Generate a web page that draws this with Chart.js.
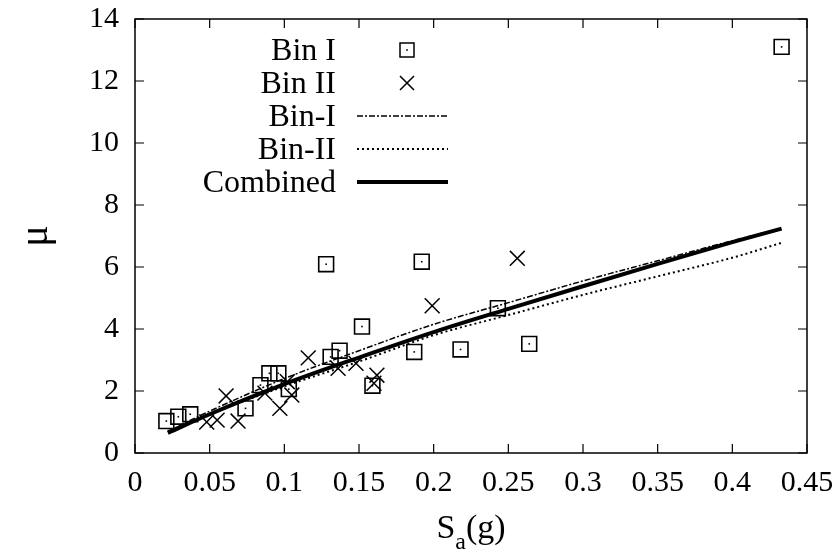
<!DOCTYPE html>
<html>
<head>
<meta charset="utf-8">
<title>mu vs Sa</title>
<script src="https://cdn.jsdelivr.net/npm/chart.js@4.4.1/dist/chart.umd.min.js"></script>
<style>
  body { margin: 0; background: #fff; }
  #wrap { width: 836px; height: 559px; }
</style>
</head>
<body>
<div id="wrap"><canvas id="chartMu" width="836" height="559"></canvas></div>
<script>
// Bin I records (squares)
var binOneSa = [0.021, 0.029, 0.037, 0.074, 0.084, 0.090, 0.096, 0.103, 0.128, 0.131, 0.137, 0.152, 0.159, 0.187, 0.192, 0.218, 0.243, 0.264, 0.433];
var binOneMu = [1.03, 1.17, 1.25, 1.44, 2.19, 2.57, 2.57, 2.06, 6.09, 3.10, 3.30, 4.08, 2.17, 3.26, 6.17, 3.34, 4.67, 3.52, 13.1];

// Bin II records (crosses)
var binTwoSa = [0.048, 0.055, 0.061, 0.069, 0.087, 0.097, 0.102, 0.105, 0.116, 0.136, 0.148, 0.160, 0.162, 0.199, 0.256];
var binTwoMu = [1.00, 1.06, 1.84, 1.03, 1.93, 1.44, 2.30, 1.87, 3.07, 2.73, 2.89, 2.25, 2.51, 4.75, 6.28];

// fitted curves
var fitSa       = [0.022, 0.05, 0.10, 0.15, 0.20, 0.25, 0.30, 0.35, 0.40, 0.433];
var fitBinOne   = [0.70, 1.35, 2.40, 3.30, 4.15, 4.85, 5.55, 6.20, 6.85, 7.25];
var fitBinTwo   = [0.70, 1.25, 2.15, 2.95, 3.80, 4.45, 5.10, 5.70, 6.30, 6.78];
var fitCombined = [0.65, 1.25, 2.22, 3.08, 3.90, 4.65, 5.38, 6.10, 6.80, 7.24];

var xTicks = [0, 0.05, 0.1, 0.15, 0.2, 0.25, 0.3, 0.35, 0.4, 0.45];
var yTicks = [0, 2, 4, 6, 8, 10, 12, 14];
var legendNames = ['Bin I', 'Bin II', 'Bin-I', 'Bin-II', 'Combined'];

var serif = "'Liberation Serif', 'Times New Roman', serif";

var toPoints = function (xs, ys) {
     return xs.map(function (x, i) { return { x: x, y: ys[i] }; });
};

// frame box + inward ticks on all four sides
var frameTicks = {
     id: 'frameTicks',
     beforeDatasetsDraw: function (chart) {
          var ctx = chart.ctx, a = chart.chartArea;
          var sx = chart.scales.x, sy = chart.scales.y;
          ctx.save();
          ctx.strokeStyle = '#000';
          ctx.lineWidth = 1.5;
          ctx.strokeRect(a.left, a.top, a.right - a.left, a.bottom - a.top);
          ctx.lineWidth = 1.2;
          ctx.beginPath();
          xTicks.forEach(function (v) {
               var px = sx.getPixelForValue(v);
               ctx.moveTo(px, a.bottom); ctx.lineTo(px, a.bottom - 9);
               ctx.moveTo(px, a.top); ctx.lineTo(px, a.top + 9);
          });
          yTicks.forEach(function (v) {
               var py = sy.getPixelForValue(v);
               ctx.moveTo(a.left, py); ctx.lineTo(a.left + 9, py);
               ctx.moveTo(a.right, py); ctx.lineTo(a.right - 9, py);
          });
          ctx.stroke();
          ctx.restore();
     },
     afterDatasetsDraw: function (chart) {
          // little centre dot inside each square, as in the original
          var ctx = chart.ctx;
          var meta = chart.getDatasetMeta(0);
          ctx.save();
          ctx.fillStyle = '#000';
          meta.data.forEach(function (pt) {
               ctx.fillRect(pt.x - 0.8, pt.y - 0.8, 1.6, 1.6);
          });
          ctx.restore();
     },
     afterDraw: function (chart) {
          var ctx = chart.ctx, a = chart.chartArea;
          ctx.save();
          ctx.fillStyle = '#000';
          ctx.strokeStyle = '#000';

          // x axis title  S_a(g)
          var cx = (a.left + a.right) / 2;
          ctx.font = '34px ' + serif;
          ctx.textBaseline = 'alphabetic';
          var wS = ctx.measureText('S').width;
          ctx.font = '24px ' + serif;
          var wA = ctx.measureText('a').width;
          ctx.font = '34px ' + serif;
          var wG = ctx.measureText('(g)').width;
          var x0 = cx - (wS + wA + wG) / 2;
          ctx.textAlign = 'left';
          ctx.fillText('S', x0, 538);
          ctx.font = '24px ' + serif;
          ctx.fillText('a', x0 + wS, 549);
          ctx.font = '34px ' + serif;
          ctx.fillText('(g)', x0 + wS + wA, 538);

          // legend
          var textRight = 336, sampleL = 357, sampleR = 448, markX = 407;
          ctx.font = '32px ' + serif;
          ctx.textAlign = 'right';
          ctx.textBaseline = 'middle';
          legendNames.forEach(function (name, i) {
               var y = 50 + i * 33;
               ctx.fillText(name, textRight, y + 2);
               ctx.beginPath();
               ctx.setLineDash([]);
               if (i === 0) {
                    ctx.lineWidth = 1.5;
                    ctx.rect(markX - 7, y - 7, 14, 14);
                    ctx.stroke();
                    ctx.fillRect(markX - 0.8, y - 0.8, 1.6, 1.6);
               } else if (i === 1) {
                    ctx.lineWidth = 1.5;
                    ctx.moveTo(markX - 7, y - 7); ctx.lineTo(markX + 7, y + 7);
                    ctx.moveTo(markX + 7, y - 7); ctx.lineTo(markX - 7, y + 7);
                    ctx.stroke();
               } else {
                    var ds = chart.data.datasets[i];
                    ctx.lineWidth = ds.borderWidth;
                    ctx.setLineDash(ds.borderDash || []);
                    ctx.moveTo(sampleL, y); ctx.lineTo(sampleR, y);
                    ctx.stroke();
               }
          });
          ctx.restore();
     }
};

var config = {
     type: 'scatter',
     data: {
          datasets: [{
               label: legendNames[0],
               data: toPoints(binOneSa, binOneMu),
               pointStyle: 'rect',
               pointRadius: 10.5,
               borderColor: '#000',
               borderWidth: 1.6,
               backgroundColor: 'rgba(0,0,0,0)'
          }, {
               label: legendNames[1],
               data: toPoints(binTwoSa, binTwoMu),
               pointStyle: 'crossRot',
               pointRadius: 10.5,
               borderColor: '#000',
               borderWidth: 1.5,
               backgroundColor: 'rgba(0,0,0,0)'
          }, {
               label: legendNames[2],
               data: toPoints(fitSa, fitBinOne),
               showLine: true,
               pointRadius: 0,
               borderColor: '#000',
               borderWidth: 1.5,
               borderDash: [6, 2, 2, 2],
               cubicInterpolationMode: 'monotone'
          }, {
               label: legendNames[3],
               data: toPoints(fitSa, fitBinTwo),
               showLine: true,
               pointRadius: 0,
               borderColor: '#000',
               borderWidth: 2,
               borderDash: [2, 3],
               cubicInterpolationMode: 'monotone'
          }, {
               label: legendNames[4],
               data: toPoints(fitSa, fitCombined),
               showLine: true,
               pointRadius: 0,
               borderColor: '#000',
               borderWidth: 4,
               cubicInterpolationMode: 'monotone'
          }]
     },
     options: {
          responsive: false,
          animation: false,
          layout: { padding: { top: 19, right: 29, left: 0, bottom: 0 } },
          plugins: {
               legend: { display: false },
               tooltip: { enabled: false }
          },
          scales: {
               x: {
                    type: 'linear',
                    min: 0,
                    max: 0.45,
                    afterBuildTicks: function (s) {
                         s.ticks = xTicks.map(function (v) { return { value: v }; });
                    },
                    afterFit: function (s) {
                         s.height = 106;
                         s.paddingLeft = 0;
                         s.paddingRight = 0;
                    },
                    grid: { display: false, drawTicks: false },
                    border: { display: false },
                    ticks: {
                         color: '#000',
                         padding: 12,
                         maxRotation: 0,
                         font: { family: serif, size: 30 },
                         callback: function (v) { return String(v); }
                    }
               },
               y: {
                    type: 'linear',
                    min: 0,
                    max: 14,
                    afterBuildTicks: function (s) {
                         s.ticks = yTicks.map(function (v) { return { value: v }; });
                    },
                    afterFit: function (s) {
                         s.width = 135;
                         s.paddingTop = 0;
                         s.paddingBottom = 0;
                    },
                    grid: { display: false, drawTicks: false },
                    border: { display: false },
                    title: {
                         display: true,
                         text: 'μ',
                         color: '#000',
                         padding: { top: 12, bottom: 0 },
                         font: { family: serif, size: 40 }
                    },
                    ticks: {
                         color: '#000',
                         padding: 16,
                         font: { family: serif, size: 30 }
                    }
               }
          }
     },
     plugins: [frameTicks]
};

window.onload = function () {
     var ctx = document.getElementById('chartMu').getContext('2d');
     window.muChart = new Chart(ctx, config);
};
</script>
</body>
</html>
